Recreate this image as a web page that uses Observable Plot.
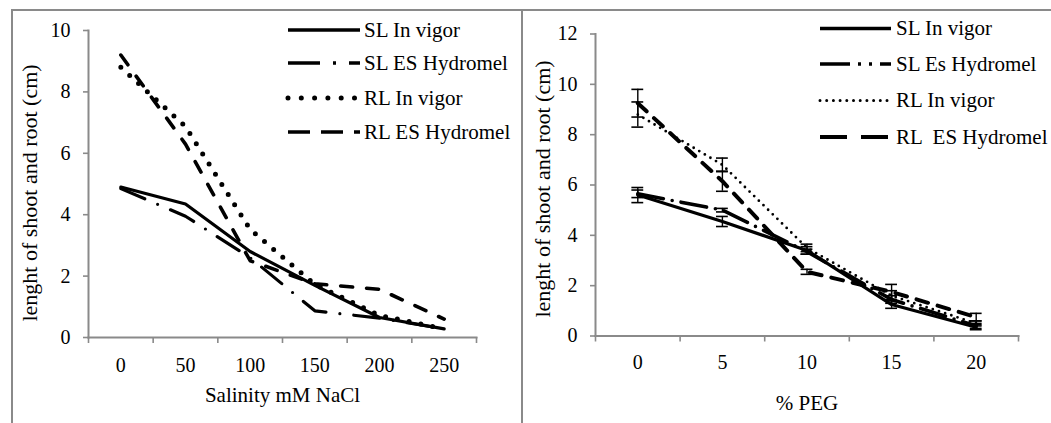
<!DOCTYPE html>
<html><head><meta charset="utf-8">
<script src="https://cdn.jsdelivr.net/npm/d3@7"></script>
<script src="https://cdn.jsdelivr.net/npm/@observablehq/plot@0.6"></script>
<style>
body{margin:0;background:#fff;font-family:"Liberation Serif","Times New Roman",Times,serif;}
#wrap{position:relative;width:1051px;height:423px;overflow:hidden;background:#fff;}
.panel{position:absolute;top:0;}
.frame{position:absolute;background:#8a8a8a;}
#legend{position:absolute;left:0;top:0;}
</style></head><body><div id="wrap"></div>
<script>
// ---------- Data: salinity (left chart) ----------
const salinity = ["0","50","100","150","200","250"];
const slInVigorNaCl  = [4.9, 4.35, 2.8, 1.7, 0.65, 0.28];
const slHydromelNaCl = [4.85, 3.95, 2.6, 0.87, 0.63, 0.28];
const rlInVigorNaCl  = [8.8, 6.87, 3.52, 1.73, 0.72, 0.28];
const rlHydromelNaCl = [9.2, 6.3, 2.5, 1.75, 1.57, 0.6];
const namesNaCl = ["SL In vigor", "SL ES Hydromel", "RL In vigor", "RL ES Hydromel"];

// ---------- Data: PEG (right chart) ----------
const peg = ["0","5","10","15","20"];
const slInVigorPEG  = [5.6, 4.55, 3.4, 1.25, 0.35];
const slHydromelPEG = [5.65, 5.0, 3.35, 1.45, 0.4];
const rlInVigorPEG  = [8.8, 6.8, 3.5, 1.6, 0.5];
const rlHydromelPEG = [9.25, 6.15, 2.55, 1.75, 0.75];
const slInVigorPEGErr  = [0.3, 0.2, 0.15, 0.15, 0.1];
const slHydromelPEGErr = [0.15, 0.07, 0.1, 0.15, 0.1];
const rlInVigorPEGErr  = [0.5, 0.27, 0.15, 0.2, 0.1];
const rlHydromelPEGErr = [0.55, 0.4, 0.1, 0.3, 0.15];
const namesPEG = ["SL In vigor", "SL Es Hydromel", "RL In vigor", "RL  ES Hydromel"];

const yLabel = "lenght of shoot and root (cm)";
const grey = "#8a8a8a";
const FONT = "'Liberation Serif', 'Times New Roman', Times, serif";

// line styles (left chart, right chart)
const stylesNaCl = [
  {strokeWidth: 3.2, strokeDasharray: null, strokeLinecap: "round"},
  {strokeWidth: 3.2, strokeDasharray: "26,14,0,14", strokeLinecap: "round"},
  {strokeWidth: 5, strokeDasharray: "0,12", strokeLinecap: "round"},
  {strokeWidth: 3.6, strokeDasharray: "12,14", strokeLinecap: "round"}
];
const legendStylesNaCl = [
  {strokeWidth: 3.5, strokeDasharray: null, strokeLinecap: "butt"},
  {strokeWidth: 3.5, strokeDasharray: "32,13,3,13", strokeLinecap: "butt"},
  {strokeWidth: 5, strokeDasharray: "0,13.3", strokeLinecap: "round"},
  {strokeWidth: 3.5, strokeDasharray: "22,11", strokeLinecap: "butt"}
];
const stylesPEG = [
  {strokeWidth: 3.2, strokeDasharray: null, strokeLinecap: "round"},
  {strokeWidth: 3.6, strokeDasharray: "26,9,0,9", strokeLinecap: "round"},
  {strokeWidth: 2.8, strokeDasharray: "0,6.5", strokeLinecap: "round"},
  {strokeWidth: 4, strokeDasharray: "12,10", strokeLinecap: "round"}
];
const legendStylesPEG = [
  {strokeWidth: 3.5, strokeDasharray: null, strokeLinecap: "butt"},
  {strokeWidth: 3.5, strokeDasharray: "30,8,3,8,3,8", strokeLinecap: "butt"},
  {strokeWidth: 3, strokeDasharray: "0,6.7", strokeLinecap: "round"},
  {strokeWidth: 4, strokeDasharray: "27,14", strokeLinecap: "butt"}
];

function makeChart(o) {
  const n = o.cats.length;
  const marks = [
    Plot.frame({anchor: "left", stroke: grey, strokeWidth: 2}),
    Plot.frame({anchor: "bottom", stroke: grey, strokeWidth: 2}),
    Plot.axisY({ticks: d3.range(0, o.yMax + 1, 2), tickSize: 5, tickPadding: 13,
      stroke: grey, strokeWidth: 1.6, fill: "black", fontSize: 20, fontFamily: FONT, label: null}),
    Plot.axisX({ticks: d3.range(n), tickFormat: i => o.cats[i], tickSize: 0,
      tickPadding: o.tickPadX, fill: "black", fontSize: 20, fontFamily: FONT, label: null}),
    Plot.axisX({ticks: d3.range(n + 1).map(i => i - 0.5), tickFormat: () => "",
      tickSize: 6, stroke: grey, strokeWidth: 1.6, label: null}),
    Plot.text([o.xLabel], {text: d => d, frameAnchor: "bottom", dy: o.xLabelDy, fontFamily: FONT,
      fontSize: 21, fill: "black", lineAnchor: "middle", textAnchor: "middle"}),
    Plot.text([yLabel], {text: d => d, frameAnchor: "left", rotate: -90, dx: o.yLabelDx, fontFamily: FONT,
      dy: o.yLabelDy, fontSize: 22, fill: "black", lineAnchor: "middle", textAnchor: "middle"})
  ];
  if (o.errors) {
    o.series.forEach((vals, s) => {
      const rows = vals.map((v, i) => ({i, v, e: o.errors[s][i]}));
      marks.push(Plot.ruleX(rows, {x: "i", y1: d => d.v - d.e, y2: d => d.v + d.e, stroke: "black", strokeWidth: 1.4}));
      const caps = rows.flatMap(d => [{i: d.i, y: d.v - d.e}, {i: d.i, y: d.v + d.e}]);
      marks.push(Plot.ruleY(caps, {y: "y", x1: d => d.i - o.capHalf, x2: d => d.i + o.capHalf, stroke: "black", strokeWidth: 1.6}));
    });
  }
  o.series.forEach((vals, s) => {
    const rows = vals.map((v, i) => ({i, v}));
    const st = o.styles[s];
    const opts = {x: "i", y: "v", stroke: "black", strokeWidth: st.strokeWidth, strokeLinecap: st.strokeLinecap, strokeLinejoin: "round"};
    if (st.strokeDasharray) opts.strokeDasharray = st.strokeDasharray;
    marks.push(Plot.line(rows, opts));
  });
  const svg = Plot.plot({
    width: o.width, height: o.height,
    marginLeft: o.ml, marginRight: o.mr, marginTop: o.mt, marginBottom: o.mb,
    x: {type: "linear", domain: [-0.5, n - 0.5]},
    y: {domain: [0, o.yMax]},
    style: {background: "transparent", color: "black"},
    marks
  });
  svg.setAttribute("font-family", FONT);
  svg.style.fontFamily = FONT;
  svg.querySelectorAll("g, text").forEach(el => {
    if (el.hasAttribute("font-family") || el.tagName === "text") {
      el.setAttribute("font-family", FONT);
      el.style.fontFamily = FONT;
    }
  });
  return svg;
}

const wrap = document.getElementById("wrap");

const left = makeChart({
  cats: salinity, series: [slInVigorNaCl, slHydromelNaCl, rlInVigorNaCl, rlHydromelNaCl],
  styles: stylesNaCl, yMax: 10, width: 521, height: 423,
  ml: 88, mr: 45, mt: 30, mb: 86, tickPadX: 20,
  xLabel: "Salinity mM NaCl", xLabelDy: 58, yLabelDx: -59, yLabelDy: 9
});
left.classList.add("panel"); left.style.left = "0px";
wrap.appendChild(left);

const right = makeChart({
  cats: peg, series: [slInVigorPEG, slHydromelPEG, rlInVigorPEG, rlHydromelPEG],
  errors: [slInVigorPEGErr, slHydromelPEGErr, rlInVigorPEGErr, rlHydromelPEGErr], capHalf: 0.07,
  styles: stylesPEG, yMax: 12, width: 530, height: 423,
  ml: 74, mr: 33, mt: 33.5, mb: 87.5, tickPadX: 19,
  xLabel: "% PEG", xLabelDy: 67, yLabelDx: -53, yLabelDy: 4
});
right.classList.add("panel"); right.style.left = "521px";
wrap.appendChild(right);

// Legends
const legSvg = d3.select(wrap).append("svg").attr("id", "legend").attr("width", 1051).attr("height", 423);
function legend(names, styles, x1, x2, tx, rows) {
  const g = legSvg.append("g");
  names.forEach((name, k) => {
    const st = styles[k];
    const ln = g.append("line").attr("x1", x1).attr("x2", x2).attr("y1", rows[k]).attr("y2", rows[k])
      .attr("stroke", "black").attr("stroke-width", st.strokeWidth).attr("stroke-linecap", st.strokeLinecap);
    if (st.strokeDasharray) ln.attr("stroke-dasharray", st.strokeDasharray);
    g.append("text").attr("x", tx).attr("y", rows[k]).attr("dy", "0.33em")
      .attr("font-size", 21).attr("fill", "black")
      .style("white-space", "pre").style("font-family", FONT).text(name);
  });
}
legend(namesNaCl, legendStylesNaCl, 288, 360, 364, [30, 63, 98, 132]);
legend(namesPEG, legendStylesPEG, 820, 891, 896, [28.5, 64, 100.5, 137]);

// Panel frames
function frameLine(l, t, w, h) {
  const d = document.createElement("div");
  d.className = "frame";
  Object.assign(d.style, {left: l + "px", top: t + "px", width: w + "px", height: h + "px"});
  wrap.appendChild(d);
}
frameLine(11, 9, 1040, 1.5);
frameLine(11, 9, 1.5, 414);
frameLine(521, 9, 1.5, 414);
</script></body></html>
